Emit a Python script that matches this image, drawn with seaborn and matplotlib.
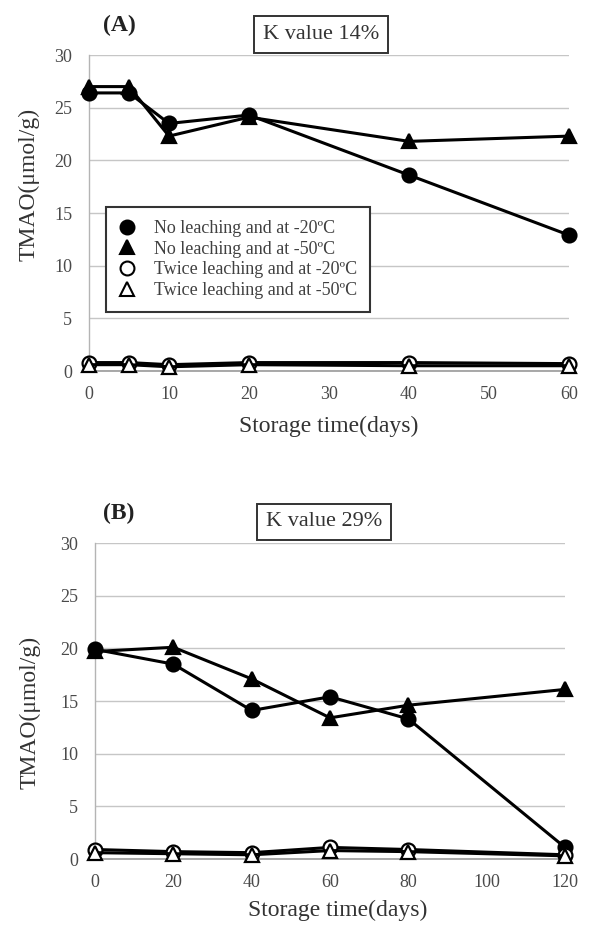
import matplotlib
matplotlib.use("Agg")
import matplotlib.pyplot as plt
from matplotlib.lines import Line2D
import seaborn as sns
import pandas as pd

# ---------------- data ----------------
days_a = [0, 5, 10, 20, 40, 60]
a_no_leach_m20 = [26.4, 26.4, 23.5, 24.3, 18.6, 12.9]
a_no_leach_m50 = [27.0, 27.0, 22.3, 24.1, 21.8, 22.3]
a_twice_m20 = [0.8, 0.8, 0.6, 0.8, 0.8, 0.7]
a_twice_m50 = [0.6, 0.6, 0.4, 0.6, 0.5, 0.5]

days_b = [0, 20, 40, 60, 80, 120]
b_no_leach_m20 = [19.9, 18.5, 14.1, 15.4, 13.3, 1.1]
b_no_leach_m50 = [19.7, 20.1, 17.1, 13.4, 14.6, 16.1]
b_twice_m20 = [0.9, 0.7, 0.6, 1.1, 0.9, 0.4]
b_twice_m50 = [0.6, 0.5, 0.4, 0.8, 0.7, 0.3]

series_labels = ["No leaching and at -20ºC", "No leaching and at -50ºC",
                 "Twice leaching and at -20ºC", "Twice leaching and at -50ºC"]
xticks_a = [0, 10, 20, 30, 40, 50, 60]
xticks_b = [0, 20, 40, 60, 80, 100, 120]
yticks = [0, 5, 10, 15, 20, 25, 30]
k_labels = ["K value 14%", "K value 29%"]
panel_labels = ["(A)", "(B)"]
xlabel = "Storage time(days)"
ylabel = "TMAO(μmol/g)"

# ---------------- style ----------------
sns.set_style("white")
plt.rcParams["font.family"] = ["Liberation Serif", "DejaVu Serif"]

W, H = 589, 934
fig = plt.figure(figsize=(W / 100, H / 100), dpi=100)

def frac_box(l, t, r, b):
    return [l / W, 1 - b / H, (r - l) / W, (b - t) / H]

ax_a = fig.add_axes(frac_box(89, 55, 569, 371))
ax_b = fig.add_axes(frac_box(95, 543, 565, 859))

styles = [("o", "black"), ("^", "black"), ("o", "white"), ("^", "white")]

def build_df(days, vals):
    rows = []
    for lab, v in zip(series_labels, vals):
        for d, y in zip(days, v):
            rows.append({"day": d, "tmao": y, "series": lab})
    return pd.DataFrame(rows)

def draw(ax, days, vals, xticks, xmax):
    df = build_df(days, vals)
    for i, (lab, (mk, fc)) in enumerate(zip(series_labels, styles)):
        sub = df[df["series"] == lab]
        sns.lineplot(data=sub, x="day", y="tmao", ax=ax, estimator=None,
                     errorbar=None, color="black", linewidth=2.2,
                     marker=mk, markersize=10 if mk == "o" else 10.5,
                     markerfacecolor=fc, markeredgecolor="black",
                     markeredgewidth=1.6, clip_on=False, zorder=3 + i,
                     legend=False)
    ax.set_xlim(0, xmax)
    ax.set_ylim(0, 30)
    ax.set_xticks(xticks)
    ax.set_yticks(yticks)
    ax.yaxis.grid(True, color="#c6c6c6", linewidth=1.0)
    ax.xaxis.grid(False)
    ax.set_axisbelow(True)
    for s in ["top", "right"]:
        ax.spines[s].set_visible(False)
    ax.spines["left"].set_color("#b4b4b4")
    ax.spines["bottom"].set_color("#9a9a9a")
    ax.spines["left"].set_linewidth(1.0)
    ax.spines["bottom"].set_linewidth(1.2)
    ax.tick_params(axis="both", which="major", labelsize=13,
                   labelcolor="#4a4a4a", color="#9a9a9a",
                   length=4, width=1.0, direction="out")
    ax.tick_params(axis="y", pad=8)
    ax.tick_params(axis="x", pad=7)
    ax.set_xlabel(xlabel, fontsize=17, color="#333333", va="center")
    ax.set_ylabel(ylabel, fontsize=17, color="#333333", va="center")

draw(ax_a, days_a, [a_no_leach_m20, a_no_leach_m50, a_twice_m20, a_twice_m50], xticks_a, 60)
draw(ax_b, days_b, [b_no_leach_m20, b_no_leach_m50, b_twice_m20, b_twice_m50], xticks_b, 120)

# label positions (axes fractions)
ax_a.xaxis.set_label_coords((329 - 89) / 480, -(426 - 371) / 316)
ax_b.xaxis.set_label_coords((338 - 95) / 470, -(910 - 859) / 316)
ax_a.yaxis.set_label_coords((29 - 89) / 480, (371 - 184) / 316)
ax_b.yaxis.set_label_coords((30 - 95) / 470, (859 - 712) / 316)

# panel letters
fig.text(119 / W, 1 - 25 / H, panel_labels[0], fontsize=17, fontweight="bold",
         ha="center", va="center", color="#222222")
fig.text(119 / W, 1 - 513 / H, panel_labels[1], fontsize=17, fontweight="bold",
         ha="center", va="center", color="#222222")

# K value boxes
for (cx, cy), txt in zip([(321, 34.5), (324, 522)], k_labels):
    fig.text(cx / W, 1 - cy / H, txt, fontsize=16, ha="center", va="center",
             color="#333333",
             bbox=dict(boxstyle="square,pad=0.4", facecolor="white",
                       edgecolor="#333333", linewidth=1.4))

# legend (panel A only)
handles = []
for lab, (mk, fc) in zip(series_labels, styles):
    handles.append(Line2D([], [], linestyle="none", marker=mk, markersize=10,
                          markerfacecolor=fc, markeredgecolor="black",
                          markeredgewidth=1.5, label=lab))
leg = ax_a.legend(handles=handles, loc="upper left",
                  bbox_to_anchor=(106 / W, 1 - 207 / H),
                  bbox_transform=fig.transFigure, borderaxespad=0,
                  fontsize=13, frameon=True, fancybox=False,
                  handlelength=0.85, handletextpad=1.1, borderpad=0.72,
                  labelspacing=0.2, labelcolor="#404040")
leg.get_frame().set_edgecolor("#333333")
leg.get_frame().set_linewidth(1.5)
leg.get_frame().set_alpha(1)
leg.set_zorder(10)

fig.savefig("out.png", dpi=100)
